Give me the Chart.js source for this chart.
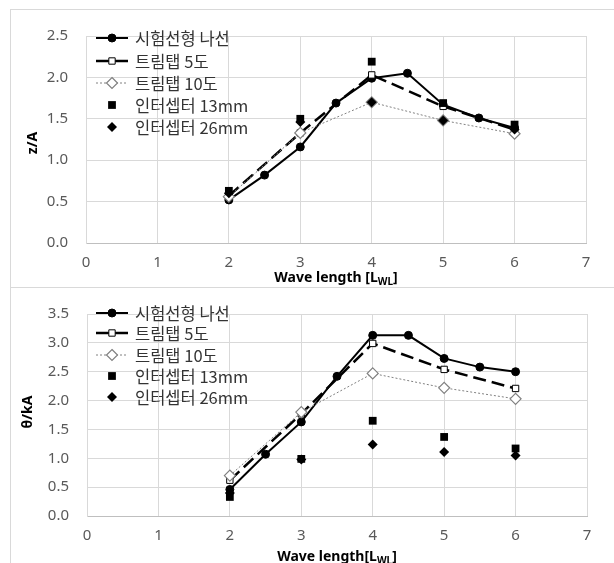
<!DOCTYPE html>
<html lang="ko">
<head>
<meta charset="UTF-8">
<title></title>
<script src="https://cdn.jsdelivr.net/npm/chart.js"></script>
<style>
  html, body {
    margin: 0;
    padding: 0;
    background: #fff;
    overflow: hidden;
    width: 614px;
    height: 563px;
  }
  .frame {
    position: absolute;
    left: 10px;
    width: 620px;
    border: 1px solid #d9d9d9;
  }
  #frame1 { top: 9px; height: 277px; }
  #frame2 { top: 287px; height: 300px; border-top: none; }
  canvas { position: absolute; left: 10px; }
  #c1 { top: 9px; }
  #c2 { top: 287px; }
</style>
</head>
<body>
  <div class="frame" id="frame1"></div>
  <div class="frame" id="frame2"></div>
  <canvas id="c1" width="604" height="278"></canvas>
  <canvas id="c2" width="604" height="276"></canvas>
  <script>
    // x values
    const waveMain = [2, 2.5, 3, 3.5, 4, 4.5, 5, 5.5, 6]
    const waveTab = [2, 3, 4, 5, 6]
    const seriesNames = ['시험선형 나선', '트림탭 5도', '트림탭 10도', '인터셉터 13mm', '인터셉터 26mm']

    // z/A (heave)
    const zMain = [0.52, 0.82, 1.16, 1.69, 1.99, 2.05, 1.67, 1.51, 1.39]
    const zTrim5 = [0.57, 1.33, 2.03, 1.65, 1.37]
    const zTrim10 = [0.56, 1.33, 1.70, 1.48, 1.32]
    const zInt13 = [0.63, 1.50, 2.19, 1.69, 1.43]
    const zInt26 = [0.60, 1.46, 1.70, 1.48, 1.37]

    // θ/kA (pitch)
    const thMain = [0.46, 1.07, 1.63, 2.42, 3.13, 3.13, 2.73, 2.58, 2.50]
    const thTrim5 = [0.62, 1.77, 2.99, 2.54, 2.21]
    const thTrim10 = [0.70, 1.80, 2.47, 2.22, 2.03]
    const thInt13 = [0.33, 0.99, 1.65, 1.37, 1.17]
    const thInt26 = [0.40, 0.98, 1.24, 1.11, 1.05]

    const pts = (xs, ys) => xs.map((x, i) => ({ x, y: ys[i] }))

    function drawMarker(ctx, ds, x, y) {
      const r = ds.pointRadius
      ctx.save()
      ctx.setLineDash([])
      ctx.fillStyle = ds.pointBackgroundColor
      ctx.strokeStyle = ds.pointBorderColor
      ctx.lineWidth = ds.pointBorderWidth
      ctx.beginPath()
      if (ds.pointStyle === 'circle') {
        ctx.arc(x, y, r, 0, Math.PI * 2)
      } else if (ds.pointStyle === 'rect') {
        const s = r * Math.SQRT1_2
        ctx.rect(x - s, y - s, 2 * s, 2 * s)
      } else {
        ctx.moveTo(x, y - r); ctx.lineTo(x + r, y); ctx.lineTo(x, y + r); ctx.lineTo(x - r, y); ctx.closePath()
      }
      ctx.fill()
      if (ds.pointBorderWidth) ctx.stroke()
      ctx.restore()
    }

    const boxLegend = {
      id: 'boxLegend',
      afterDatasetsDraw(chart, args, opts) {
        const ctx = chart.ctx
        chart.data.datasets.forEach((ds, i) => {
          const y = opts.rows[i]
          ctx.save()
          if (ds.showLine) {
            ctx.strokeStyle = ds.borderColor
            ctx.lineWidth = ds.borderWidth
            ctx.setLineDash(ds.legendDash || [])
            ctx.beginPath()
            ctx.moveTo(opts.x0, y)
            ctx.lineTo(opts.x1, y)
            ctx.stroke()
          }
          drawMarker(ctx, ds, (opts.x0 + opts.x1) / 2, y)
          ctx.fillStyle = '#333'
          ctx.font = '16.5px "Noto Sans CJK KR"'
          ctx.textBaseline = 'middle'
          ctx.fillText(ds.label, opts.textX, y + 1)
          ctx.restore()
        })
      }
    }

    const axisTitles = {
      id: 'axisTitles',
      afterDraw(chart, args, opts) {
        const ctx = chart.ctx, area = chart.chartArea
        const big = 'bold 14px "Noto Sans"', small = 'bold 10px "Noto Sans"'
        ctx.save()
        ctx.fillStyle = '#000'
        ctx.textBaseline = 'alphabetic'
        ctx.font = big
        const w1 = ctx.measureText(opts.xMain).width
        const w3 = ctx.measureText(']').width
        ctx.font = small
        const w2 = ctx.measureText('WL').width
        let x = (area.left + area.right) / 2 - (w1 + w2 + w3) / 2
        const base = opts.xY + 5
        ctx.font = big
        ctx.fillText(opts.xMain, x, base)
        x += w1
        ctx.font = small
        ctx.fillText('WL', x, base + 3)
        x += w2
        ctx.font = big
        ctx.fillText(']', x, base)
        // y title
        ctx.translate(opts.yX, opts.yY)
        ctx.rotate(-Math.PI / 2)
        ctx.textAlign = 'center'
        ctx.textBaseline = 'middle'
        ctx.fillText(opts.yText, 0, 0)
        ctx.restore()
      }
    }

    function buildDatasets(main, t5, t10, i13, i26) {
      return [
        {
          label: seriesNames[0], data: pts(waveMain, main), showLine: true,
          borderColor: '#000', borderWidth: 2,
          pointStyle: 'circle', pointRadius: 4,
          pointBackgroundColor: '#000', pointBorderColor: '#000', pointBorderWidth: 1,
          order: 4
        },
        {
          label: seriesNames[1], data: pts(waveTab, t5), showLine: true,
          borderColor: '#000', borderWidth: 2.5, borderDash: [13, 6],
          pointStyle: 'rect', pointRadius: 4.5,
          pointBackgroundColor: '#fff', pointBorderColor: '#000', pointBorderWidth: 1,
          order: 3
        },
        {
          label: seriesNames[2], data: pts(waveTab, t10), showLine: true,
          borderColor: '#808080', borderWidth: 1, borderDash: [2, 2], legendDash: [2, 2],
          pointStyle: 'rectRot', pointRadius: 5.5,
          pointBackgroundColor: '#fff', pointBorderColor: '#808080', pointBorderWidth: 1.2,
          order: 2
        },
        {
          label: seriesNames[3], data: pts(waveTab, i13), showLine: false,
          borderColor: '#000', borderWidth: 0,
          pointStyle: 'rect', pointRadius: 5.5,
          pointBackgroundColor: '#000', pointBorderColor: '#000', pointBorderWidth: 0,
          order: 1
        },
        {
          label: seriesNames[4], data: pts(waveTab, i26), showLine: false,
          borderColor: '#000', borderWidth: 0,
          pointStyle: 'rectRot', pointRadius: 5,
          pointBackgroundColor: '#000', pointBorderColor: '#000', pointBorderWidth: 0,
          order: 0
        }
      ]
    }

    function makeChart(id, datasets, c) {
      return new Chart(document.getElementById(id), {
        type: 'scatter',
        data: { datasets },
        plugins: [boxLegend, axisTitles],
        options: {
          responsive: false,
          animation: false,
          layout: { padding: { top: c.padTop, right: c.padRight, left: 0, bottom: 0 } },
          scales: {
            x: {
              type: 'linear', min: 0, max: 7,
              afterFit: s => { s.height = c.xHeight },
              grid: { color: '#d9d9d9', drawTicks: false },
              border: { color: '#bfbfbf' },
              ticks: { stepSize: 1, padding: 11, color: '#595959', font: { family: 'Noto Sans', size: 15 } }
            },
            y: {
              type: 'linear', min: 0, max: c.yMax,
              afterFit: s => { s.width = c.yWidth },
              grid: { color: '#d9d9d9', drawTicks: false },
              border: { color: '#d9d9d9' },
              ticks: {
                stepSize: 0.5, padding: 18, color: '#595959',
                font: { family: 'Noto Sans', size: 15 },
                callback: v => v.toFixed(1)
              }
            }
          },
          plugins: {
            legend: { display: false },
            tooltip: { enabled: false },
            boxLegend: { rows: c.rows, x0: 86, x1: 118, textX: 125 },
            axisTitles: c.titles
          }
        }
      })
    }

    makeChart('c1', buildDatasets(zMain, zTrim5, zTrim10, zInt13, zInt26), {
      yMax: 2.5, padTop: 10, padRight: 28, xHeight: 44, yWidth: 76,
      rows: [29, 52, 74, 96, 118],
      titles: { xMain: 'Wave length [L', xY: 268, yText: 'z/A', yX: 23, yY: 134 }
    })

    makeChart('c2', buildDatasets(thMain, thTrim5, thTrim10, thInt13, thInt26), {
      yMax: 3.5, padTop: 11, padRight: 27, xHeight: 47, yWidth: 77,
      rows: [26, 46, 68, 89, 110],
      titles: { xMain: 'Wave length[L', xY: 269, yText: 'θ/kA', yX: 18, yY: 125 }
    })
  </script>
</body>
</html>
